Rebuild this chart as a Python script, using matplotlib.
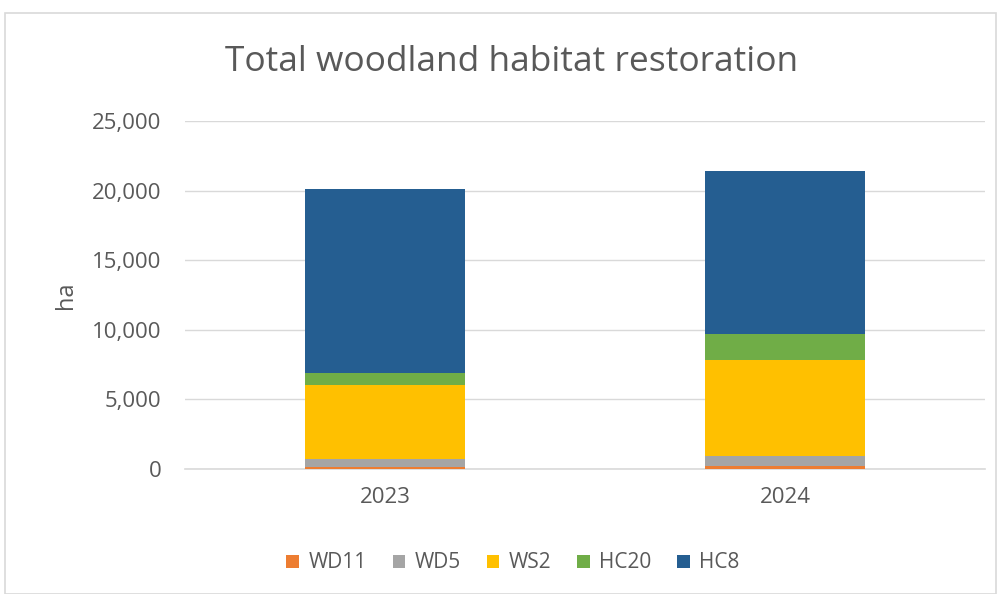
import numpy as np
import matplotlib
matplotlib.use("Agg")
import matplotlib.pyplot as plt
from matplotlib.patches import Rectangle

plt.rcParams['font.family'] = ['Open Sans', 'DejaVu Sans']

years = ['2023', '2024']
series = ['WD11', 'WD5', 'WS2', 'HC20', 'HC8']
wd11 = [170, 200]
wd5 = [550, 700]
ws2 = [5300, 6930]
hc20 = [880, 1870]
hc8 = [13200, 11700]
colors = ['#ED7D31', '#A5A5A5', '#FFC000', '#70AD47', '#255E91']
yticks = [0, 5000, 10000, 15000, 20000, 25000]

fig = plt.figure(figsize=(10.01, 5.94), dpi=100)
fig.patches.append(Rectangle((0.005, 0.0), 0.99, 0.978, transform=fig.transFigure,
                             fill=False, edgecolor='#D9D9D9', lw=1.2))
ax = fig.add_axes([0.1848, 0.2104, 0.7992, 0.5859])

x = np.arange(len(years))
bottom = np.zeros(len(years))
for name, vals, c in zip(series, [wd11, wd5, ws2, hc20, hc8], colors):
    ax.bar(x, vals, 0.4, bottom=bottom, color=c, label=name, zorder=3)
    bottom += np.array(vals)

ax.set_xlim(-0.5, 1.5)
ax.set_ylim(0, 25000)
ax.set_yticks(yticks)
ax.set_yticklabels([f'{v:,}' for v in yticks])
ax.set_xticks(x)
ax.set_xticklabels(years)
ax.grid(axis='y', color='#D9D9D9', lw=1, zorder=0)
for s in ['top', 'right', 'left']:
    ax.spines[s].set_visible(False)
ax.spines['bottom'].set_color('#D9D9D9')
ax.spines['bottom'].set_linewidth(1.2)
ax.tick_params(length=0, colors='#595959', labelsize=16)
ax.tick_params(axis='y', pad=17)
ax.tick_params(axis='x', pad=13)
ax.set_ylabel('ha', fontsize=17, color='#595959', labelpad=10)

fig.text(0.511, 0.895, 'Total woodland habitat restoration', ha='center', va='center',
         fontsize=25.5, color='#595959')
ax.legend(loc='center', bbox_to_anchor=(0.41, -0.27), ncol=5, frameon=False,
          fontsize=15, labelcolor='#595959', handlelength=0.6, handleheight=0.6,
          handletextpad=0.45, columnspacing=1.25)

fig.savefig('out.png', dpi=100)
